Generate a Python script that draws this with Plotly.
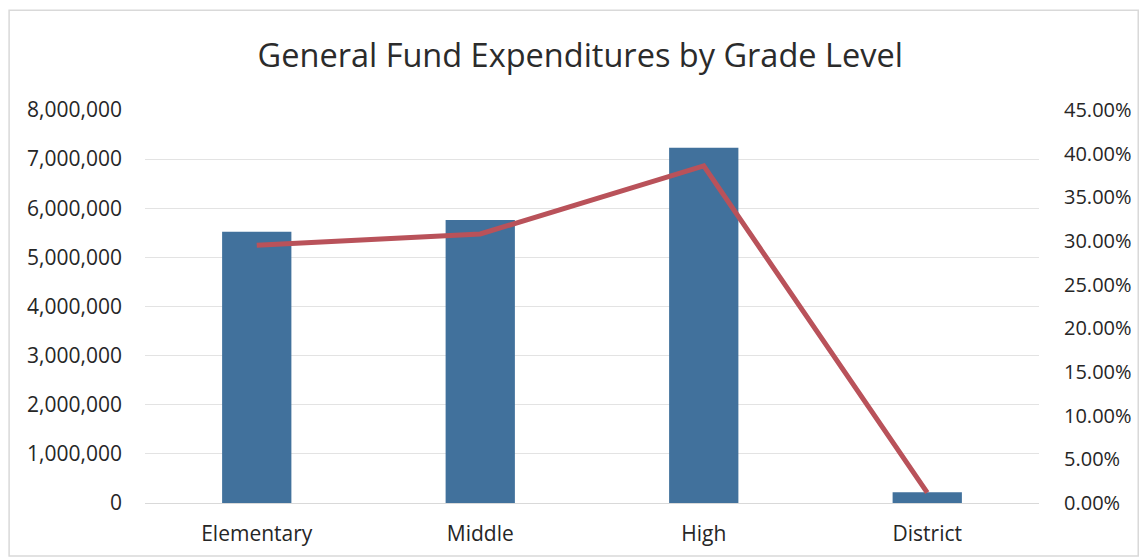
import plotly.graph_objects as go

# Expenditures by grade level and each level's share of the total
levels = ["Elementary", "Middle", "High", "District"]
expenditures = [5520000, 5760000, 7230000, 220000]
share_pct = [0.295, 0.308, 0.386, 0.0118]

left_ticks = [0, 1000000, 2000000, 3000000, 4000000, 5000000, 6000000, 7000000, 8000000]
right_ticks = [0, 0.05, 0.10, 0.15, 0.20, 0.25, 0.30, 0.35, 0.40, 0.45]

font_family = "'Open Sans', Lato, sans-serif"
tick_color = "#262626"

fig = go.Figure()
fig.add_trace(go.Bar(
    x=levels, y=expenditures, marker=dict(color="#41719C", line=dict(width=0)),
    width=0.31, showlegend=False,
))
fig.add_trace(go.Scatter(
    x=levels, y=share_pct, yaxis="y2", mode="lines",
    line=dict(color="#B9525A", width=5), showlegend=False,
))

fig.update_layout(
    width=1140, height=558,
    margin=dict(l=145, r=101, t=110, b=55),
    paper_bgcolor="white", plot_bgcolor="white",
    title=dict(text="General Fund Expenditures by Grade Level", x=0.509, xanchor="center",
               y=0.9, yanchor="middle",
               font=dict(family=font_family, size=32.5, color="#2B2B2B")),
    font=dict(family=font_family, size=21, color=tick_color),
    xaxis=dict(showgrid=False, showline=True, linecolor="#D9D9D9", linewidth=1, automargin=False,
               ticks="", ticklabelstandoff=12, tickfont=dict(size=21, color=tick_color)),
    yaxis=dict(range=[0, 8000000], tickvals=left_ticks, tickformat=",d", automargin=False,
               showgrid=True, gridcolor="#E3E3E3", gridwidth=1, zeroline=False,
               ticks="", ticklabelstandoff=22, tickfont=dict(size=21, color=tick_color)),
    yaxis2=dict(range=[0, 0.45], tickvals=right_ticks, tickformat=".2%", automargin=False,
                overlaying="y", side="right", showgrid=False, zeroline=False,
                ticks="", ticklabelstandoff=24, tickfont=dict(size=20, color=tick_color)),
    shapes=[dict(type="rect", xref="paper", yref="paper", x0=-0.152, x1=1.111, y0=-0.135, y1=1.254,
                 line=dict(color="#D9D9D9", width=1.5), layer="below")],
)

fig.write_html("out.html")
